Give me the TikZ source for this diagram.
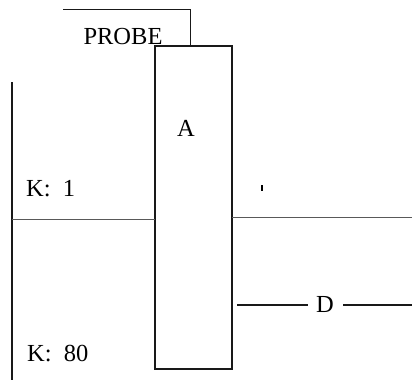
\documentclass[tikz,border=0pt]{standalone}
\usepackage{fontspec}
\setmainfont{Liberation Serif}
\begin{document}
\begin{tikzpicture}[x=1pt,y=-1pt,
  ln/.style={line width=1.6pt,black!90},
  hln/.style={line width=1.6pt,black!65},
  lbl/.style={font=\fontsize{24.5}{28}\selectfont,inner sep=0pt,anchor=base}]
\useasboundingbox (0,0) rectangle (412,380);
% box A
\node[draw,ln,minimum width=77pt,minimum height=323pt,inner sep=0pt] (boxA) at (193.5,207.5) {};
\node[lbl] (A) at (186,136) {A};
% probe bracket
\coordinate (p0) at (63,9.5);
\coordinate (p1) at (190.5,9.5);
\coordinate (p2) at (190.5,46);
\draw[ln] (p0) -- (p1) -- (p2);
\node[lbl] (probe) at (123,44) {PROBE};
% left rail
\coordinate (l0) at (12,82);
\coordinate (l1) at (12,380);
\draw[ln] (l0) -- (l1);
% horizontal lines
\coordinate (hl) at (12,219.5);
\coordinate (hlB) at (155,219.5);
\draw[hln] (hl) -- (hlB);
\coordinate (hrA) at (232,217.5);
\coordinate (hr) at (412,217.5);
\draw[hln] (hrA) -- (hr);
% tick
\coordinate (t0) at (262,185);
\coordinate (t1) at (262,191);
\draw[line width=1.2pt] (t0) -- (t1);
% D line
\node[lbl] (D) at (325,312) {D};
\coordinate (d0) at (237,305);
\coordinate (d1) at (308,305);
\coordinate (d2) at (343,305);
\coordinate (d3) at (412,305);
\draw[ln] (d0) -- (d1);
\draw[ln] (d2) -- (d3);
% K labels
\node[lbl,anchor=base west] (k1) at (26,196) {K:\ \ 1};
\node[lbl,anchor=base west] (k80) at (27,361) {K:\ \ 80};
\end{tikzpicture}
\end{document}
